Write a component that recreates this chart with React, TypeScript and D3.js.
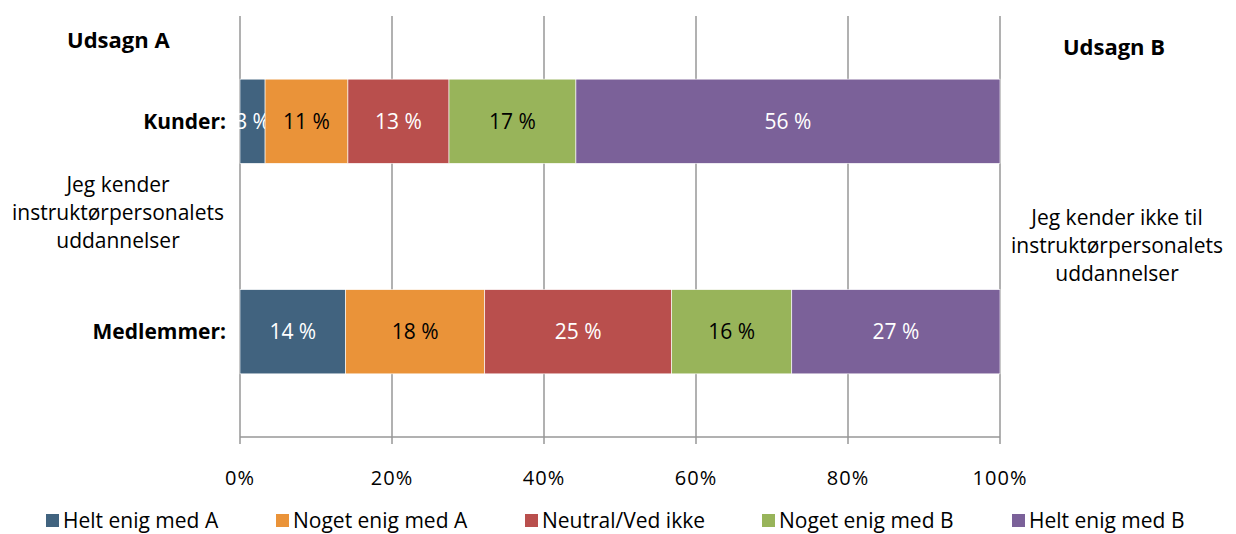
import React from "react";
import * as d3 from "d3";

const categories = ["Kunder:", "Medlemmer:"];
const seriesNames = ["Helt enig med A", "Noget enig med A", "Neutral/Ved ikke", "Noget enig med B", "Helt enig med B"];
const kunderValues = [3.3, 10.9, 13.3, 16.7, 55.8];
const medlemmerValues = [13.9, 18.3, 24.6, 15.8, 27.4];
const labelsKunder = ["3 %", "11 %", "13 %", "17 %", "56 %"];
const labelsMedlemmer = ["14 %", "18 %", "25 %", "16 %", "27 %"];
const tickValues = [0, 20, 40, 60, 80, 100];
const colors = ["#41637f", "#ea9339", "#b94f4d", "#98b45a", "#7b6199"];
const labelColors = ["#fff", "#000", "#fff", "#000", "#fff"];

const FONT = "'Open Sans', 'Noto Sans', sans-serif";

export default function App() {
  const W = 1236, H = 534;
  const x = d3.scaleLinear().domain([0, 100]).range([240, 1000]);
  const y = d3.scaleBand().domain(categories).range([16, 437]).paddingInner(0.6).paddingOuter(0.3);
  const rows = [
    { cat: categories[0], vals: kunderValues, labels: labelsKunder },
    { cat: categories[1], vals: medlemmerValues, labels: labelsMedlemmer },
  ];
  const legendX = [46, 276, 525, 762, 1012];
  return (
    <svg width={W} height={H} style={{ position: "absolute", left: 0, top: 0, fontFamily: FONT }}>
      <rect width={W} height={H} fill="#fff" />
      {tickValues.map((t) => (
        <line key={t} x1={x(t)} x2={x(t)} y1={16} y2={444} stroke="#979797" strokeWidth={1.5} />
      ))}
      <line x1={240} x2={1000} y1={437} y2={437} stroke="#979797" strokeWidth={1.5} />
      {rows.map((r) => {
        const stack = d3.cumsum(r.vals);
        return (
          <g key={r.cat}>
            {r.vals.map((v, i) => {
              const x0 = x(i === 0 ? 0 : stack[i - 1]);
              const x1 = x(stack[i]);
              const yy = y(r.cat)!;
              const bh = y.bandwidth();
              return (
                <g key={i}>
                  <rect x={x0} y={yy} width={x1 - x0} height={bh} fill={colors[i]} stroke="#fff" strokeWidth={0.6} />
                  <text x={(x0 + x1) / 2} y={yy + bh / 2} dy="0.35em" textAnchor="middle" fontSize={21} fill={labelColors[i]}>
                    {r.labels[i]}
                  </text>
                </g>
              );
            })}
            <text x={226} y={y(r.cat)! + y.bandwidth() / 2} dy="0.35em" textAnchor="end" fontSize={21} fontWeight="bold" fill="#000">
              {r.cat}
            </text>
          </g>
        );
      })}
      {tickValues.map((t) => (
        <text key={t} x={x(t)} y={478} dy="0.35em" textAnchor="middle" fontSize={20} letterSpacing={1} fill="#000">
          {t}%
        </text>
      ))}
      <text x={67} y={40} dy="0.35em" fontSize={22} fontWeight="bold">Udsagn A</text>
      <text x={1114} y={47} dy="0.35em" textAnchor="middle" fontSize={22} fontWeight="bold">Udsagn B</text>
      {["Jeg kender", "instruktørpersonalets", "uddannelser"].map((s, i) => (
        <text key={s} x={118} y={185 + i * 28} dy="0.35em" textAnchor="middle" fontSize={21}>{s}</text>
      ))}
      {["Jeg kender ikke til", "instruktørpersonalets", "uddannelser"].map((s, i) => (
        <text key={s} x={1117} y={218 + i * 28} dy="0.35em" textAnchor="middle" fontSize={21}>{s}</text>
      ))}
      {seriesNames.map((s, i) => (
        <g key={s}>
          <rect x={legendX[i]} y={514} width={13} height={13} fill={colors[i]} />
          <text x={legendX[i] + 17} y={521} dy="0.35em" fontSize={21}>{s}</text>
        </g>
      ))}
    </svg>
  );
}
